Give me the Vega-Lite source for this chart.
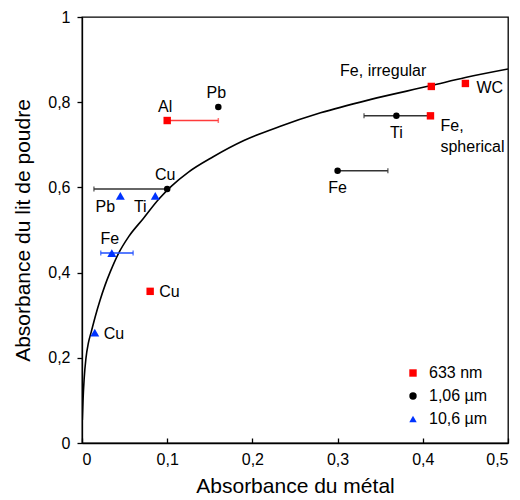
{
  "$schema": "https://vega.github.io/schema/vega-lite/v6.json",
  "width": 426,
  "height": 426,
  "autosize": {"type": "none"},
  "padding": {"left": 82, "top": 17, "right": 12, "bottom": 57},
  "background": "white",
  "config": {
    "font": "Liberation Sans",
    "view": {"stroke": "#000", "strokeWidth": 1.3},
    "axis": {"grid": false, "domainColor": "#000", "domainWidth": 1.3, "tickColor": "#000", "tickWidth": 1.3, "labelColor": "#000", "titleColor": "#000", "labelFontSize": 16, "titleFontSize": 21, "titleFontWeight": "normal", "labelFont": "Liberation Sans", "titleFont": "Liberation Sans"}
  },
  "datasets": {
    "pts": [
      {"id": "Al633", "series": "633 nm", "label": "Al", "x": 0.1, "y": 0.757, "xlo": 0.1, "xhi": 0.16},
      {"id": "Cu633", "series": "633 nm", "label": "Cu", "x": 0.08, "y": 0.356},
      {"id": "FeIrr", "series": "633 nm", "label": "Fe, irregular", "x": 0.41, "y": 0.837},
      {"id": "WC", "series": "633 nm", "label": "WC", "x": 0.45, "y": 0.844},
      {"id": "FeSph", "series": "633 nm", "label": "Fe,\nspherical", "x": 0.409, "y": 0.768},
      {"id": "Pb106", "series": "1,06 µm", "label": "Pb", "x": 0.16, "y": 0.789},
      {"id": "Cu106", "series": "1,06 µm", "label": "Cu", "x": 0.1, "y": 0.596, "xlo": 0.014, "xhi": 0.1},
      {"id": "Ti106", "series": "1,06 µm", "label": "Ti", "x": 0.369, "y": 0.768, "xlo": 0.331, "xhi": 0.409},
      {"id": "Fe106", "series": "1,06 µm", "label": "Fe", "x": 0.3, "y": 0.639, "xlo": 0.3, "xhi": 0.359},
      {"id": "Pb10", "series": "10,6 µm", "label": "Pb", "x": 0.045, "y": 0.58},
      {"id": "Ti10", "series": "10,6 µm", "label": "Ti", "x": 0.086, "y": 0.58},
      {"id": "Fe10", "series": "10,6 µm", "label": "Fe", "x": 0.035, "y": 0.446, "xlo": 0.022, "xhi": 0.06},
      {"id": "Cu10", "series": "10,6 µm", "label": "Cu", "x": 0.015, "y": 0.259}
    ],
    "curve": [
      {"x": 0.0004, "y": 0.054},
      {"x": 0.0012, "y": 0.1},
      {"x": 0.0025, "y": 0.15},
      {"x": 0.0047, "y": 0.2},
      {"x": 0.0075, "y": 0.235},
      {"x": 0.011, "y": 0.262},
      {"x": 0.016, "y": 0.3},
      {"x": 0.021, "y": 0.334},
      {"x": 0.027, "y": 0.37},
      {"x": 0.033, "y": 0.401},
      {"x": 0.0426, "y": 0.444},
      {"x": 0.055, "y": 0.485},
      {"x": 0.072, "y": 0.527},
      {"x": 0.09, "y": 0.572},
      {"x": 0.105, "y": 0.603},
      {"x": 0.125, "y": 0.636},
      {"x": 0.154, "y": 0.672},
      {"x": 0.19, "y": 0.71},
      {"x": 0.232, "y": 0.743},
      {"x": 0.28, "y": 0.775},
      {"x": 0.338, "y": 0.806},
      {"x": 0.41, "y": 0.839},
      {"x": 0.45, "y": 0.858},
      {"x": 0.5, "y": 0.878}
    ]
  },
  "layer": [
    {
      "data": {"name": "curve"},
      "mark": {"type": "line", "color": "#000", "strokeWidth": 1.6, "interpolate": "monotone", "clip": true},
      "encoding": {
        "x": {"field": "x", "type": "quantitative", "scale": {"domain": [0, 0.5], "nice": false},
          "axis": {"values": [0, 0.1, 0.2, 0.3, 0.4, 0.5], "tickSize": -5, "labelPadding": 13, "labelExpr": "replace(format(datum.value, '~g'), '.', ',')", "titlePadding": 8},
          "title": "Absorbance du métal"},
        "y": {"field": "y", "type": "quantitative", "scale": {"domain": [0, 1], "nice": false},
          "axis": {"values": [0, 0.2, 0.4, 0.6, 0.8, 1], "tickSize": 5, "labelPadding": 7, "labelExpr": "replace(format(datum.value, '~g'), '.', ',')", "titlePadding": 14},
          "title": "Absorbance du lit de poudre"}
      }
    },
    {
      "data": {"name": "pts"},
      "transform": [{"filter": {"field": "id", "oneOf": ["Al633"]}}],
      "mark": {"type": "errorbar", "ticks": true, "thickness": 1.5, "color": "#FF3B3B"},
      "encoding": {
        "x": {"field": "xlo", "type": "quantitative", "title": "Absorbance du métal"},
        "x2": {"field": "xhi"},
        "y": {"field": "y", "type": "quantitative", "title": "Absorbance du lit de poudre"}
      }
    },
    {
      "data": {"name": "pts"},
      "transform": [{"filter": {"field": "id", "oneOf": ["Cu106", "Ti106", "Fe106"]}}],
      "mark": {"type": "errorbar", "ticks": true, "thickness": 1.5, "color": "#333333"},
      "encoding": {
        "x": {"field": "xlo", "type": "quantitative", "title": "Absorbance du métal"},
        "x2": {"field": "xhi"},
        "y": {"field": "y", "type": "quantitative", "title": "Absorbance du lit de poudre"}
      }
    },
    {
      "data": {"name": "pts"},
      "transform": [{"filter": {"field": "id", "oneOf": ["Fe10"]}}],
      "mark": {"type": "errorbar", "ticks": true, "thickness": 1.5, "color": "#1F4FFF"},
      "encoding": {
        "x": {"field": "xlo", "type": "quantitative", "title": "Absorbance du métal"},
        "x2": {"field": "xhi"},
        "y": {"field": "y", "type": "quantitative", "title": "Absorbance du lit de poudre"}
      }
    },
    {
      "data": {"name": "pts"},
      "transform": [{"filter": {"field": "series", "equal": "633 nm"}}],
      "mark": {"type": "point", "filled": true, "opacity": 1, "size": 55},
      "encoding": {
        "x": {"field": "x", "type": "quantitative", "title": "Absorbance du métal"},
        "y": {"field": "y", "type": "quantitative", "title": "Absorbance du lit de poudre"},
        "color": {"field": "series", "type": "nominal", "scale": {"domain": ["633 nm", "1,06 µm", "10,6 µm"], "range": ["#FF0000", "#000000", "#0033FF"]},
          "legend": {"orient": "none", "legendX": 323, "legendY": 348, "title": null, "labelFontSize": 16, "labelFont": "Liberation Sans", "labelColor": "#000", "rowPadding": 7, "labelOffset": 8, "padding": 0, "symbolSize": 55}},
        "shape": {"field": "series", "type": "nominal", "scale": {"domain": ["633 nm", "1,06 µm", "10,6 µm"], "range": ["square", "circle", "triangle-up"]}}
      }
    },
    {
      "data": {"name": "pts"},
      "transform": [{"filter": {"field": "series", "equal": "1,06 µm"}}],
      "mark": {"type": "point", "filled": true, "opacity": 1, "size": 42},
      "encoding": {
        "x": {"field": "x", "type": "quantitative"},
        "y": {"field": "y", "type": "quantitative"},
        "color": {"field": "series", "type": "nominal"},
        "shape": {"field": "series", "type": "nominal"}
      }
    },
    {
      "data": {"name": "pts"},
      "transform": [{"filter": {"field": "series", "equal": "10,6 µm"}}],
      "mark": {"type": "point", "filled": true, "opacity": 1, "size": 80},
      "encoding": {
        "x": {"field": "x", "type": "quantitative"},
        "y": {"field": "y", "type": "quantitative"},
        "color": {"field": "series", "type": "nominal"},
        "shape": {"field": "series", "type": "nominal"}
      }
    },
    {
      "data": {"name": "pts"},
      "transform": [{"filter": {"field": "id", "oneOf": ["Al633", "Pb106", "Cu106", "Fe10"]}}],
      "mark": {"type": "text", "fontSize": 16, "font": "Liberation Sans", "color": "#000", "dx": -2, "dy": -14, "baseline": "middle", "align": "center"},
      "encoding": {"x": {"field": "x", "type": "quantitative"}, "y": {"field": "y", "type": "quantitative"}, "text": {"field": "label"}}
    },
    {
      "data": {"name": "pts"},
      "transform": [{"filter": {"field": "id", "oneOf": ["Ti106", "Fe106"]}}],
      "mark": {"type": "text", "fontSize": 16, "font": "Liberation Sans", "color": "#000", "dy": 17, "baseline": "middle", "align": "center"},
      "encoding": {"x": {"field": "x", "type": "quantitative"}, "y": {"field": "y", "type": "quantitative"}, "text": {"field": "label"}}
    },
    {
      "data": {"name": "pts"},
      "transform": [{"filter": {"field": "id", "oneOf": ["Pb10", "Ti10"]}}],
      "mark": {"type": "text", "fontSize": 16, "font": "Liberation Sans", "color": "#000", "dx": -15, "dy": 11, "baseline": "middle", "align": "center"},
      "encoding": {"x": {"field": "x", "type": "quantitative"}, "y": {"field": "y", "type": "quantitative"}, "text": {"field": "label"}}
    },
    {
      "data": {"name": "pts"},
      "transform": [{"filter": {"field": "id", "oneOf": ["Cu633", "Cu10"]}}],
      "mark": {"type": "text", "fontSize": 16, "font": "Liberation Sans", "color": "#000", "dx": 9, "dy": 1, "baseline": "middle", "align": "left"},
      "encoding": {"x": {"field": "x", "type": "quantitative"}, "y": {"field": "y", "type": "quantitative"}, "text": {"field": "label"}}
    },
    {
      "data": {"name": "pts"},
      "transform": [{"filter": {"field": "id", "oneOf": ["WC"]}}],
      "mark": {"type": "text", "fontSize": 16, "font": "Liberation Sans", "color": "#000", "dx": 11, "dy": 5, "baseline": "middle", "align": "left"},
      "encoding": {"x": {"field": "x", "type": "quantitative"}, "y": {"field": "y", "type": "quantitative"}, "text": {"field": "label"}}
    },
    {
      "data": {"name": "pts"},
      "transform": [{"filter": {"field": "id", "oneOf": ["FeSph"]}}],
      "mark": {"type": "text", "fontSize": 16, "font": "Liberation Sans", "color": "#000", "dx": 10, "dy": 10.5, "lineHeight": 21, "lineBreak": "\n", "baseline": "middle", "align": "left"},
      "encoding": {"x": {"field": "x", "type": "quantitative"}, "y": {"field": "y", "type": "quantitative"}, "text": {"field": "label"}}
    },
    {
      "data": {"name": "pts"},
      "transform": [{"filter": {"field": "id", "oneOf": ["FeIrr"]}}],
      "mark": {"type": "text", "fontSize": 16, "font": "Liberation Sans", "color": "#000", "dx": -5, "dy": -15, "baseline": "middle", "align": "right"},
      "encoding": {"x": {"field": "x", "type": "quantitative"}, "y": {"field": "y", "type": "quantitative"}, "text": {"field": "label"}}
    }
  ]
}
